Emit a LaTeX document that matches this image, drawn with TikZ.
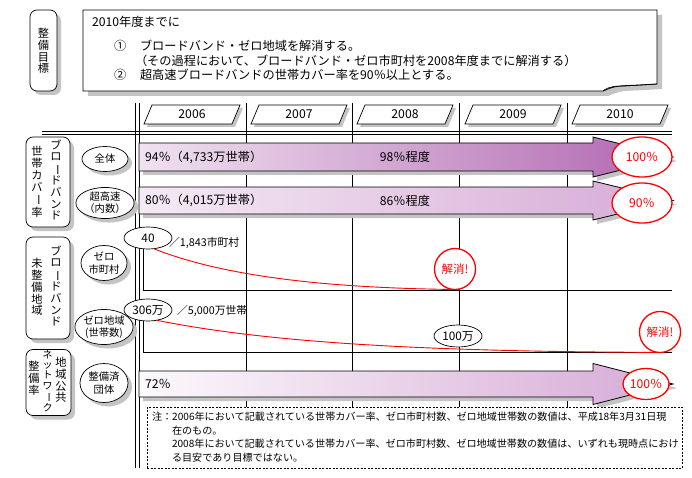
\documentclass[tikz,border=0pt]{standalone}
\usepackage{fontspec}
\usepackage{graphicx}
\setmainfont{Noto Sans CJK JP}
\usetikzlibrary{shapes.geometric,shadows}
\newcommand\tatebou{\rotatebox[origin=c]{-90}{ー}}
\definecolor{shd}{HTML}{C4C4C4}
\definecolor{pA}{HTML}{F0E2F0}
\definecolor{pB}{HTML}{B066B0}
\definecolor{pC}{HTML}{F4EAF4}
\definecolor{pD}{HTML}{D6AAD6}
\definecolor{pE}{HTML}{FCF9FC}
\definecolor{rline}{HTML}{FF0000}
\newcommand\arrowshape[3]{(139,#1-#2) -- (593,#1-#2) -- (593,#1-#3) -- (673,#1) -- (593,#1+#3) -- (593,#1+#2) -- (139,#1+#2) -- cycle}
\newcommand\redring[4]{%
  \fill[white] (#1,#2) ellipse [x radius=#3pt, y radius=#4pt];
  \draw[rline,line width=1.3pt] (#1,#2) ellipse [x radius=#3pt, y radius=#4pt];}
\begin{document}
\begin{tikzpicture}[x=1pt,y=-1pt,
  every node/.style={inner sep=0pt,outer sep=0pt},
  txt/.style={font=\fontsize{12.2}{14}\selectfont},
  small/.style={font=\fontsize{10.8}{12.5}\selectfont},
  note/.style={anchor=west,font=\fontsize{10.1}{12}\selectfont},
  shad/.style={drop shadow={shadow xshift=4pt,shadow yshift=-4pt,fill=shd,opacity=1}},
  lbox/.style={draw,fill=white,rounded corners=7pt,shad,line width=0.7pt},
  lell/.style={draw,ellipse,fill=white,shad,align=center,line width=0.7pt,font=\fontsize{10.3}{12.3}\selectfont},
  vall/.style={draw,ellipse,fill=white,line width=0.7pt,font=\fontsize{11.8}{13}\selectfont},
  rtext/.style={text=rline,font=\fontsize{12.2}{14}\selectfont},
  vt/.style={align=center,font=\fontsize{11.2}{11.8}\selectfont},
  grid/.style={line width=0.8pt}
]
\useasboundingbox (0,0) rectangle (692,478);
\fill[white] (0,0) rectangle (692,478);

% goal box with curled corner
\fill[shd] (88,15) -- (662,15) -- (662,89) -- (645,90) .. controls (620,91) .. (608,96) -- (88,96) -- cycle;
\draw[fill=white,line width=0.8pt] (83,10) -- (657,10) -- (657,84) -- (640,85) .. controls (615,86) .. (603,91) -- (83,91) -- cycle;
\draw[line width=0.6pt] (603,91) .. controls (609,86) and (616,86) .. (625,86) -- (657,84);
\node[txt,anchor=west] (g0) at (92,22) {2010年度までに};
\node[txt,anchor=west] (g1n) at (114,46) {①};
\node[txt,anchor=west] (g1) at (140,46) {ブロードバンド・ゼロ地域を解消する。};
\node[txt,anchor=west] (g2) at (135,61) {（その過程において、ブロードバンド・ゼロ市町村を2008年度までに解消する）};
\node[txt,anchor=west] (g3n) at (114,75) {②};
\node[txt,anchor=west] (g3) at (140,75) {超高速ブロードバンドの世帯カバー率を90％以上とする。};

% goal label
\node[lbox,minimum width=27pt,minimum height=81pt] (goallab) at (43.5,50.5) {};
\node[vt] (goaltxt) at (43.5,51) {整\\備\\目\\標};

% header double lines
\draw[grid] (42,131) -- (672,131);
\draw[grid] (42,134.5) -- (672,134.5);
\draw[grid] (135.5,103) -- (135.5,468);
\draw[grid] (139,103) -- (139,468);

% column lines
\foreach \x in {246,352,459,567} \draw[grid] (\x,103) -- (\x,407);

% year parallelograms
\foreach \c/\yr in {192/2006,299/2007,405/2008,513/2009,620/2010}{
  \fill[shd] (\c-45,127) -- (\c-37,108) -- (\c+51,108) -- (\c+43,127) -- cycle;
  \draw[fill=white,line width=0.7pt] (\c-48,124) -- (\c-40,105) -- (\c+48,105) -- (\c+40,124) -- cycle;
  \node[txt] (y\yr) at (\c,114.5) {\yr};
}

% axes rows 3 and 4
\draw[grid] (143,249) -- (143,290) -- (672,290);
\draw[grid] (143,320) -- (143,352) -- (672,352);

% bars
\fill[shd,shift={(4,4)}] \arrowshape{157}{14}{20};
\path[left color=pA,right color=pB,draw=black,line width=0.8pt] \arrowshape{157}{14}{20};
\fill[shd,shift={(4,4)}] \arrowshape{200.5}{13.5}{19.5};
\path[left color=pC,right color=pD,draw=black,line width=0.8pt] \arrowshape{200.5}{13.5}{19.5};
\fill[shd,shift={(4,4)}] \arrowshape{384}{13}{20.5};
\path[left color=pE,right color=pD,draw=black,line width=0.8pt] \arrowshape{384}{13}{20.5};

\node[txt,anchor=west] (b1a) at (145,157) {94％（4,733万世帯）};
\node[txt] (b1b) at (405,157) {98％程度};
\node[txt,anchor=west] (b2a) at (145,200.5) {80％（4,015万世帯）};
\node[txt] (b2b) at (405,200.5) {86％程度};
\node[txt,anchor=west] (b5a) at (145,384) {72％};

% target ellipses
\redring{642}{157}{30}{20}
\node[rtext] (t1) at (642,157) {100％};
\redring{642}{203}{30}{20}
\node[rtext] (t2) at (642,203) {90％};
\redring{646}{384}{23}{15.5}
\node[rtext] (t5) at (646,384) {100％};

% zero municipalities
\node[vall,minimum width=48pt,minimum height=22pt] (n40) at (148,238) {40};
\node[vall,minimum width=48pt,minimum height=22pt] (n306) at (148,310) {306万};
\coordinate (k1s) at (455,289.5);
\coordinate (k2s) at (660,352.5);
\draw[rline,line width=0.9pt] (n40.-62) .. controls (225,277) and (330,288) .. (k1s);
\draw[rline,line width=0.9pt] (n306.-50) .. controls (260,341) and (400,350) .. (600,352) -- (k2s);
\redring{455}{269}{20.5}{20.5}
\node[rtext,font=\fontsize{11.5}{13}\selectfont] (k1) at (455,269) {解消!};
\redring{660}{332}{20.5}{20.5}
\node[rtext,font=\fontsize{11.5}{13}\selectfont] (k2) at (660,332) {解消!};
\node[vall,minimum width=48pt,minimum height=22pt,fill=white] (n100) at (458,336) {100万};
\node[small,anchor=west] (l1) at (169,243) {／1,843市町村};
\node[small,anchor=west] (l2) at (177,311) {／5,000万世帯};

% left group labels
\node[lbox,minimum width=44pt,minimum height=90pt] (G1) at (48,182) {};
\node[vt] (G1r) at (56,180) {ブ\\ロ\\\tatebou\\ド\\バ\\ン\\ド};
\node[vt] (G1l) at (37,182) {世\\帯\\カ\\バ\\\tatebou\\率};
\node[lbox,minimum width=44pt,minimum height=102pt] (G2) at (48,288) {};
\node[vt] (G2r) at (56,286) {ブ\\ロ\\\tatebou\\ド\\バ\\ン\\ド};
\node[vt] (G2l) at (37,287) {未\\整\\備\\地\\域};
\node[lbox,minimum width=45pt,minimum height=66pt] (G3) at (48.5,382.5) {};
\node[vt] (G3r) at (61,380) {地\\域\\公\\共};
\node[align=center,font=\fontsize{10}{10.4}\selectfont] (G3m) at (47.5,381) {ネ\\ッ\\ト\\ワ\\\tatebou\\ク};
\node[vt] (G3l) at (34,378) {整\\備\\率};

\node[lell,minimum width=46pt,minimum height=25pt] (e1) at (105,159) {全体};
\node[lell,minimum width=46pt,minimum height=29pt] (e2) at (105,203) {超高速\\（内数）};
\node[lell,minimum width=46pt,minimum height=35pt] (e3) at (104,263) {ゼロ\\市町村};
\node[lell,minimum width=47pt,minimum height=35pt] (e4) at (104,327) {ゼロ地域\\(世帯数)};
\node[lell,minimum width=48pt,minimum height=39pt] (e5) at (104,383) {整備済\\団体};

% notes
\node[draw,dash pattern=on 2pt off 1.5pt,fill=white,line width=0.7pt,minimum width=535pt,minimum height=61pt,anchor=north west] (notes) at (147,407) {};
\node[note] (nt1) at (152,417) {注：2006年において記載されている世帯カバー率、ゼロ市町村数、ゼロ地域世帯数の数値は、平成18年3月31日現};
\node[note] (nt2) at (172,430.5) {在のもの。};
\node[note] (nt3) at (172,444) {2008年において記載されている世帯カバー率、ゼロ市町村数、ゼロ地域世帯数の数値は、いずれも現時点におけ};
\node[note] (nt4) at (172,457.5) {る目安であり目標ではない。};
\end{tikzpicture}
\end{document}
